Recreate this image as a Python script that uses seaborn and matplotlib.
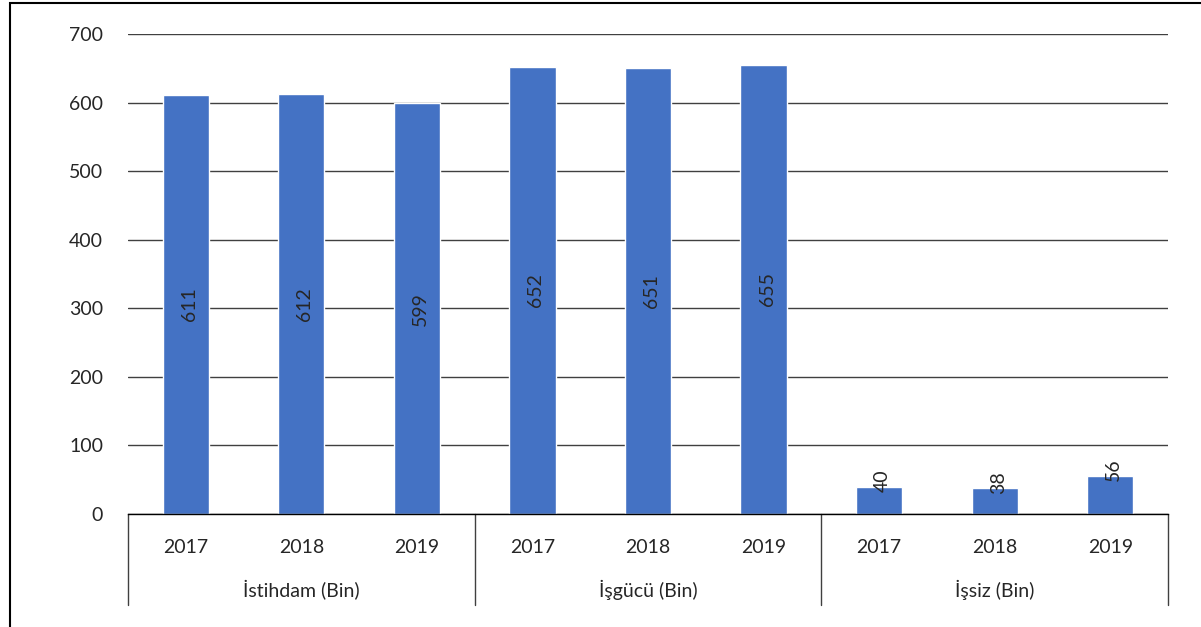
import matplotlib
matplotlib.use("Agg")
import matplotlib.pyplot as plt
import matplotlib.transforms as mtransforms
from matplotlib.patches import Rectangle
import seaborn as sns
import pandas as pd

groups = ["İstihdam (Bin)", "İşgücü (Bin)", "İşsiz (Bin)"]
years = ["2017", "2018", "2019"]
istihdam = [611, 612, 599]
isgucu = [652, 651, 655]
issiz = [40, 38, 56]
yticks = [0, 100, 200, 300, 400, 500, 600, 700]

rows = []
for g, vals in zip(groups, [istihdam, isgucu, issiz]):
    for y, v in zip(years, vals):
        rows.append({"key": f"{g}|{y}", "group": g, "year": y, "value": v})
df = pd.DataFrame(rows)

sns.set_theme(style="white")
plt.rcParams['font.family'] = ['Lato', 'DejaVu Sans']
FS = 14

fig = plt.figure(figsize=(12.01, 6.27), dpi=100)
ax = fig.add_axes([128/1201, 1 - 514/627, 1040/1201, 480/627])

sns.barplot(data=df, x="key", y="value", order=list(df["key"]), color="#4472C4",
            saturation=1, width=0.4, ax=ax)

ax.set_ylim(0, 700)
ax.set_xlim(-0.5, len(df) - 0.5)
ax.set_yticks(yticks)
ax.set_yticklabels([str(t) for t in yticks], fontsize=FS)
ax.yaxis.grid(True, color="#404040", linewidth=1)
ax.set_axisbelow(True)
ax.tick_params(axis="y", length=0, pad=18)
ax.tick_params(axis="x", length=0, pad=18)
ax.set_xticks(range(len(df)))
ax.set_xticklabels(df["year"], fontsize=FS)
ax.set_xlabel("")
ax.set_ylabel("")
for s in ["left", "right", "top"]:
    ax.spines[s].set_visible(False)
ax.spines["bottom"].set_color("black")
ax.spines["bottom"].set_linewidth(1)

# value labels
for i, v in enumerate(df["value"]):
    if v > 100:
        ax.text(i + 0.03, v / 2, str(v), rotation=90, ha="center", va="center", fontsize=FS)
    else:
        ax.annotate(str(v), (i + 0.03, v), xytext=(0, 4), textcoords="offset points",
                    rotation=90, ha="center", va="center", fontsize=FS)

# group separators and labels
trans = mtransforms.blended_transform_factory(ax.transData, ax.transAxes)
for k in range(len(groups) + 1):
    xb = k * 3 - 0.5
    ax.plot([xb, xb], [0, -91/480], color="#404040", linewidth=1, transform=trans, clip_on=False)
for k, g in enumerate(groups):
    ax.text(k * 3 + 1, -76/480, g, ha="center", va="center", fontsize=FS, transform=trans)

# outer frame
fig.patches.append(Rectangle((10/1201, -0.1), 1.2, 1 - 3/627 + 0.1, transform=fig.transFigure,
                             fill=False, edgecolor="black", linewidth=1.5))

fig.savefig("out.png", dpi=100)
